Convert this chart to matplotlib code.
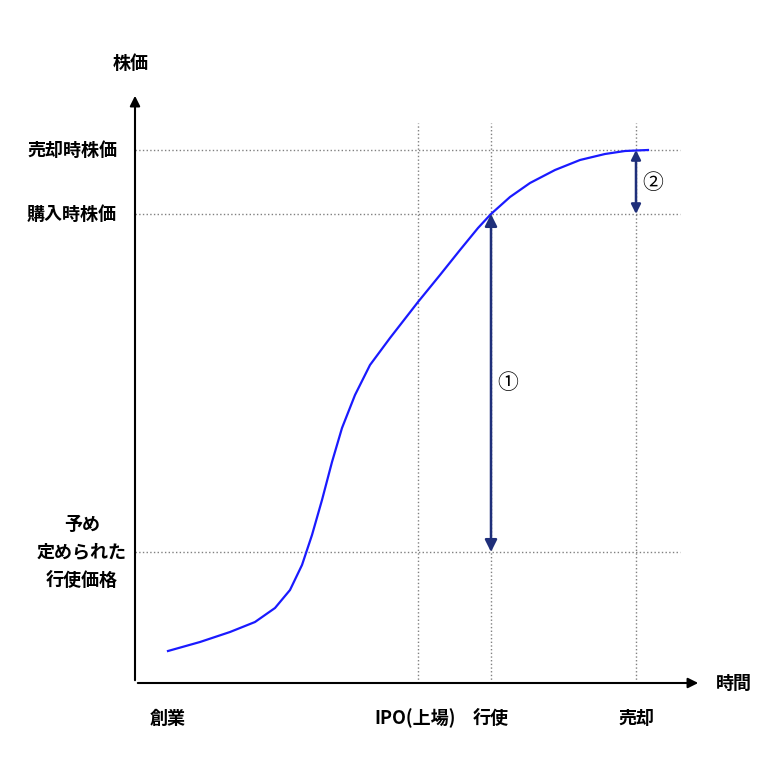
import matplotlib
matplotlib.use("Agg")
import matplotlib.pyplot as plt

plt.rcParams['font.family'] = ['Noto Sans CJK JP', 'DejaVu Sans']

# curve points (chart units: x to the right, y upward, origin at axes corner)
curve_x = [33, 65, 95, 120, 140, 155, 167, 177, 187, 197, 207, 220, 235, 255, 283, 305, 325, 343, 356, 375, 395, 420, 445, 470, 490, 513]
curve_y = [32, 41, 51, 61, 75, 93, 118, 148, 183, 221, 255, 288, 318, 345, 381, 408, 433, 455, 469, 486, 500, 513, 523, 529, 532, 533]

price_levels = [533, 469, 131]
price_labels = ["売却時株価", "購入時株価", "予め\n定められた\n行使価格"]
time_points = [283, 356, 501]
time_labels = ["IPO(上場)", "行使", "売却"]

fig = plt.figure(figsize=(7.76, 7.76), dpi=100)
ax = fig.add_axes([0, 0, 1, 1])
ax.set_xlim(-135, 641)
ax.set_ylim(-93, 683)
ax.axis('off')

# axes with arrows
ax.annotate("", xy=(566, 0), xytext=(0, 0),
            arrowprops=dict(arrowstyle='-|>', color='black', lw=1.5, mutation_scale=15))
ax.annotate("", xy=(0, 590), xytext=(0, 0),
            arrowprops=dict(arrowstyle='-|>', color='black', lw=1.5, mutation_scale=15))

for yv in price_levels:
    ax.plot([0, 545], [yv, yv], ls=':', color='gray', lw=1)
for xv in time_points:
    ax.plot([xv, xv], [0, 560], ls=':', color='gray', lw=1)

ax.plot(curve_x, curve_y, color='#1a1aff', lw=1.6)

navy = '#1f2f7a'
ax.annotate("", xy=(356, 469), xytext=(356, 131),
            arrowprops=dict(arrowstyle='<|-|>', color=navy, lw=1.8, mutation_scale=18, shrinkA=0, shrinkB=0))
ax.annotate("", xy=(501, 533), xytext=(501, 469),
            arrowprops=dict(arrowstyle='<|-|>', color=navy, lw=1.8, mutation_scale=14, shrinkA=0, shrinkB=0))
ax.text(373, 300, "①", fontsize=15, ha='center', va='center')
ax.text(518, 500, "②", fontsize=15, ha='center', va='center')

fs = 13
fw = 'bold'
ax.text(-4, 610, "株価", fontsize=fs, fontweight=fw, ha='center', va='bottom')
ax.text(581, 0, "時間", fontsize=fs, fontweight=fw, ha='left', va='center')
ax.text(-18, 533, price_labels[0], fontsize=fs, fontweight=fw, ha='right', va='center')
ax.text(-18, 469, price_labels[1], fontsize=fs, fontweight=fw, ha='right', va='center')
ax.text(-53, 131, price_labels[2], fontsize=fs, fontweight=fw, ha='center', va='center', linespacing=1.6)
ax.text(33, -35, "創業", fontsize=fs, fontweight=fw, ha='center', va='center')
for xv, lab in zip(time_points, time_labels):
    ax.text(xv - (3 if lab.startswith("IPO") else 0), -35, lab, fontsize=fs, fontweight=fw, ha='center', va='center')

fig.savefig("out.png", dpi=100)
